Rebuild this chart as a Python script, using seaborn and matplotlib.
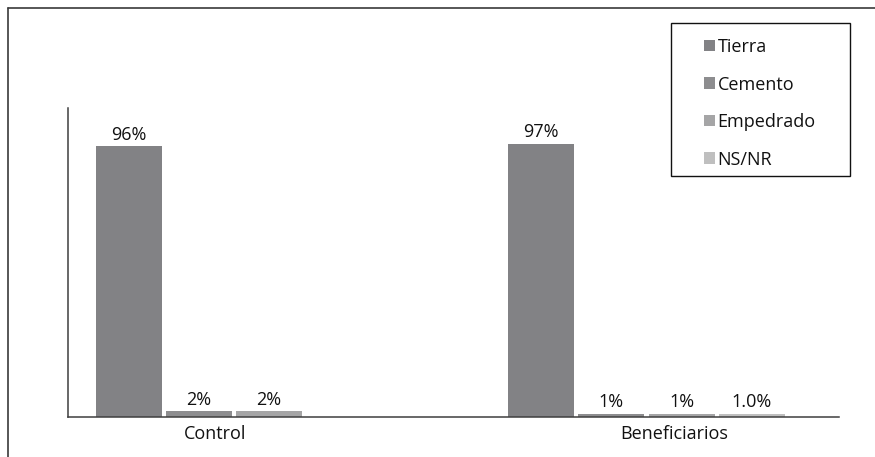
import matplotlib
matplotlib.use("Agg")
import matplotlib.pyplot as plt
from matplotlib.lines import Line2D
from matplotlib.patches import Rectangle
import pandas as pd
import seaborn as sns

# Floor type by group (percent of households)
groups = ["Control", "Beneficiarios"]
materials = ["Tierra", "Cemento", "Empedrado", "NS/NR"]
control_values = [96, 2, 2]           # no NS/NR answers in the control group
beneficiarios_values = [97, 1, 1, 1.0]
control_labels = ["96%", "2%", "2%"]
beneficiarios_labels = ["97%", "1%", "1%", "1.0%"]
colors = ["#828285", "#8d8d8f", "#a5a5a6", "#bfbfbf"]

rows = []
for mat, val, lab in zip(materials, control_values, control_labels):
    rows.append({"grupo": groups[0], "material": mat, "valor": val, "etiqueta": lab})
for mat, val, lab in zip(materials, beneficiarios_values, beneficiarios_labels):
    rows.append({"grupo": groups[1], "material": mat, "valor": val, "etiqueta": lab})
df = pd.DataFrame(rows)

sns.set_theme(style="white")
plt.rcParams["font.family"] = ["Open Sans", "DejaVu Sans"]
FS = 13

fig = plt.figure(figsize=(8.75, 4.57), dpi=100)
ax = fig.add_axes([68 / 875, 1 - 417 / 457, (839 - 68) / 875, (417 - 108) / 457])

sns.barplot(
    data=df, x="grupo", y="valor", hue="material",
    order=groups, hue_order=materials,
    palette=dict(zip(materials, colors)), saturation=1,
    errorbar=None, width=0.68, gap=0.06, linewidth=0, ax=ax,
)

# value labels above each bar
for mat, container in zip(materials, ax.containers):
    sub = df[df["material"] == mat].set_index("grupo").reindex(groups).dropna(subset=["valor"])
    ax.bar_label(container, labels=list(sub["etiqueta"]), padding=2,
                 fontsize=FS, color="#111111")

ax.set_xlim(-0.4024, 1.4667)
ax.set_ylim(0, 109.6)
ax.set_xlabel("")
ax.set_ylabel("")
ax.set_yticks([])
ax.set_xticks([-0.046, 1.067])
ax.set_xticklabels(groups, fontsize=FS, color="#111111")
ax.tick_params(axis="x", length=0, pad=6)
for side in ("top", "right"):
    ax.spines[side].set_visible(False)
for side in ("left", "bottom"):
    ax.spines[side].set_color("#3f3f3f")
    ax.spines[side].set_linewidth(1.1)

# legend in a framed box at the upper right
handles, labels = ax.get_legend_handles_labels()
ax.get_legend().remove()
fig.legend(handles, labels, loc="upper left",
           bbox_to_anchor=(695 / 875, 1 - 29 / 457), bbox_transform=fig.transFigure,
           frameon=False, fontsize=FS, borderpad=0, labelspacing=1.08,
           handlelength=0.6, handleheight=0.6, handletextpad=0.15,
           labelcolor="#111111")
fig.add_artist(Rectangle((671 / 875, 1 - 176 / 457), 179 / 875, 153 / 457,
                         transform=fig.transFigure, fill=False,
                         edgecolor="#111111", linewidth=1.0))

# outer frame lines (top and left)
fig.add_artist(Line2D([8 / 875, 1.0], [1 - 8 / 457, 1 - 8 / 457],
                      transform=fig.transFigure, color="#3a3a3a", linewidth=1.2))
fig.add_artist(Line2D([8 / 875, 8 / 875], [1 - 8 / 457, 0.0],
                      transform=fig.transFigure, color="#3a3a3a", linewidth=1.2))

fig.savefig("out.png", dpi=100)
